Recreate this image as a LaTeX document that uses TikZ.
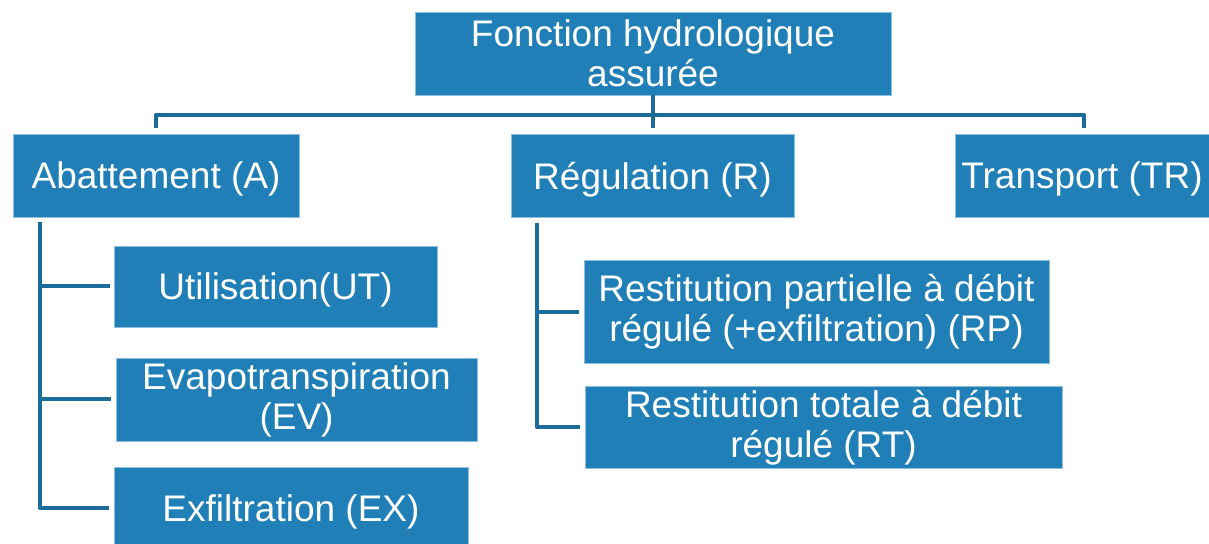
\documentclass[tikz,border=0pt]{standalone}
\usepackage{fontspec}
\setmainfont{Liberation Sans}
\usetikzlibrary{calc}
\definecolor{boxblue}{RGB}{31,127,182}
\definecolor{boxedge}{RGB}{140,190,222}
\definecolor{linkblue}{RGB}{27,108,152}
\tikzset{
  box/.style={rectangle, fill=boxblue, draw=boxedge, line width=0.4pt, text=white,
    inner sep=0pt, align=center, font=\fontsize{18.5}{20}\selectfont},
  oneline/.style={text depth=0pt},
  link/.style={draw=linkblue, line width=2pt, line join=round}
}
\begin{document}
\begin{tikzpicture}[x=0.5pt,y=-0.5pt]
\useasboundingbox (0,0) rectangle (1209,544);
% boxes
\node[box, minimum width=238pt, minimum height=41.5pt] (top) at (653,53.5) {Fonction hydrologique\\assurée};
\node[box, oneline, minimum width=143pt, minimum height=41.5pt] (ab) at (156,175.5) {Abattement (A)};
\node[box, oneline, minimum width=141.5pt, minimum height=41.5pt] (reg) at (652.5,175.5) {Régulation (R)};
\node[box, oneline, minimum width=127pt, minimum height=41.5pt] (tr) at (1082,175.5) {Transport (TR)};
\node[box, oneline, minimum width=161.5pt, minimum height=40.5pt] (ut) at (275.5,286.5) {Utilisation(UT)};
\node[box, minimum width=180.5pt, minimum height=41.5pt] (ev) at (296.5,399.5) {Evapotranspiration\\(EV)};
\node[box, oneline, minimum width=177pt, minimum height=41.5pt] (ex) at (291,508.5) {Exfiltration (EX)};
\node[box, minimum width=232.5pt, minimum height=51.5pt] (rp) at (816.5,312) {Restitution partielle à débit\\régulé (+exfiltration) (RP)};
\node[box, minimum width=238.5pt, minimum height=41pt] (rt) at (823.5,427.5) {Restitution totale à débit\\régulé (RT)};
% top connectors
\coordinate (hl) at (156,115);
\coordinate (hr) at (1084,115);
\coordinate (abtop) at (156,128);
\coordinate (regtop) at (653,128);
\coordinate (trtop) at (1084,128);
\draw[link] (top.south) -- (regtop);
\draw[link] (abtop) -- (hl) -- (hr) -- (trtop);
% abattement children
\coordinate (abv) at (40,222);
\draw[link] (abv) |- ($(ex.west)+(-5,0)$);
\draw[link] (abv |- ut.west) -- ($(ut.west)+(-4,0)$);
\draw[link] (abv |- ev.west) -- ($(ev.west)+(-5,0)$);
% regulation children
\coordinate (regv) at (537,223);
\draw[link] (regv) |- ($(rt.west)+(-5,0)$);
\draw[link] (regv |- rp.west) -- ($(rp.west)+(-5,0)$);
\end{tikzpicture}
\end{document}
